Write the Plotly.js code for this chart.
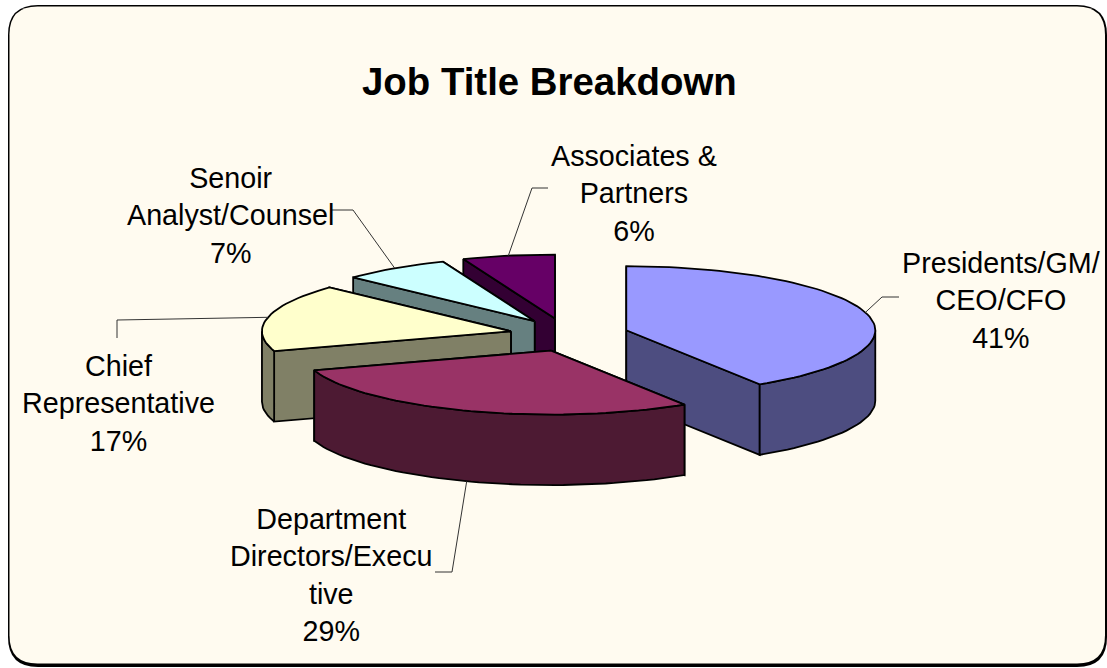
<!DOCTYPE html>
<html><head><meta charset="utf-8">
<script src="https://cdn.plot.ly/plotly-3.0.1.min.js"></script>
<style>html,body{margin:0;padding:0;background:#fff}#chart{width:1107px;height:668px}</style>
</head><body><div id="chart"></div>
<script>
const categories = ["Presidents/GM/ CEO/CFO","Department Directors/Executive","Chief Representative","Senoir Analyst/Counsel","Associates & Partners"];
const labelTexts = ["Presidents/GM/<br>CEO/CFO<br>41%","Department<br>Directors/Execu<br>tive<br>29%","Chief<br>Representative<br>17%","Senoir<br>Analyst/Counsel<br>7%","Associates &<br>Partners<br>6%"];
const percents = [41,29,17,7,6];
const topColors = ["#9999FF","#993366","#FFFFCC","#CCFFFF","#660066"];
const sideColors = ["#4D4D80","#4D1A33","#808066","#668080","#330033"];
const labelX = [1001,331,118,230,634];
const labelY = [300,575,403,215,193];
const leaderElbows = [[[882,297],[899,297]],[[452,572],[435,572]],[[117,320],[117,338]],[[353,210],[332,210]],[[532,188],[548,188]]];
const drawOrder = [4,3,2,0,1];
const apexShiftX = [0,5.5,5,3,0];

const CX=566.6, CY=334.9, RX=249, RY=64, DEPTH=70.5, EXPLODE=0.26;
const rad=d=>d*Math.PI/180;
const total=percents.reduce((a,b)=>a+b,0);
let acc=0;
const slices=percents.map((p,i)=>{const a0=acc/total*360;acc+=p;const a1=acc/total*360;const m=(a0+a1)/2;
  return {a0,a1,m,ax:CX+EXPLODE*RX*Math.sin(rad(m))*0.96+apexShiftX[i],ay:CY-EXPLODE*RY*Math.cos(rad(m))};});
const rim=(s,a,d=0)=>[s.ax+RX*Math.sin(rad(a)),s.ay-RY*Math.cos(rad(a))+d];
const arc=(s,a0,a1,d=0)=>{const pts=[];const n=Math.max(2,Math.ceil((a1-a0)/2));for(let i=0;i<=n;i++)pts.push(rim(s,a0+(a1-a0)*i/n,d));return pts;};
const traces=[];
const poly=(pts,fill)=>{const c=pts.concat([pts[0]]);traces.push({type:"scatter",mode:"lines",x:c.map(p=>p[0]),y:c.map(p=>p[1]),fill:"toself",fillcolor:fill,line:{color:"#000",width:1.8},hoverinfo:"skip",showlegend:false});};
drawOrder.forEach(i=>{const s=slices[i];
  const faces=[s.a0,s.a1].map(a=>({a,y:rim(s,a)[1]})).sort((p,q)=>p.y-q.y);
  faces.forEach(f=>{const r=rim(s,f.a);poly([[s.ax,s.ay],r,[r[0],r[1]+DEPTH],[s.ax,s.ay+DEPTH]],sideColors[i]);});
  const lo=Math.max(s.a0,90),hi=Math.min(s.a1,270);
  if(hi>lo){poly(arc(s,lo,hi).concat(arc(s,lo,hi,DEPTH).reverse()),sideColors[i]);}
  poly([[s.ax,s.ay]].concat(arc(s,s.a0,s.a1)),topColors[i]);
});
slices.forEach((s,i)=>{const d=(s.m>90&&s.m<270)?DEPTH:0;const st=rim(s,s.m,d);const pts=[st].concat(leaderElbows[i]);
  traces.push({type:"scatter",mode:"lines",x:pts.map(p=>p[0]),y:pts.map(p=>p[1]),line:{color:"#333",width:1},hoverinfo:"skip",showlegend:false,name:categories[i]});});
const rr=(x0,y0,x1,y1,r)=>`M${x0+r},${y0} L${x1-r},${y0} Q${x1},${y0} ${x1},${y0+r} L${x1},${y1-r} Q${x1},${y1} ${x1-r},${y1} L${x0+r},${y1} Q${x0},${y1} ${x0},${y1-r} L${x0},${y0+r} Q${x0},${y0} ${x0+r},${y0} Z`;
const layout={width:1107,height:668,margin:{l:0,r:0,t:0,b:0},paper_bgcolor:"#fff",plot_bgcolor:"rgba(0,0,0,0)",showlegend:false,
  xaxis:{range:[0,1107],visible:false,fixedrange:true},
  yaxis:{range:[668,0],visible:false,fixedrange:true},
  shapes:[
   {type:"path",layer:"below",xref:"x",yref:"y",path:rr(8,5,1107,667,30),fillcolor:"#000",line:{width:0}},
   {type:"path",layer:"below",xref:"x",yref:"y",path:rr(9.5,6.5,1105,663.5,28),fillcolor:"#FFFBF0",line:{width:0}}],
  annotations:[{x:549.5,y:81,xref:"x",yref:"y",text:"<b>Job Title Breakdown</b>",showarrow:false,font:{family:"Liberation Sans",size:38.4,color:"#000"},xanchor:"center",yanchor:"middle"}]
   .concat(labelTexts.map((t,i)=>({x:labelX[i],y:labelY[i],xref:"x",yref:"y",text:t,showarrow:false,align:"center",xanchor:"center",yanchor:"middle",font:{family:"Liberation Sans",size:28.7,color:"#000"}})))
};
Plotly.newPlot("chart",traces,layout,{displayModeBar:false,staticPlot:true});
</script></body></html>
